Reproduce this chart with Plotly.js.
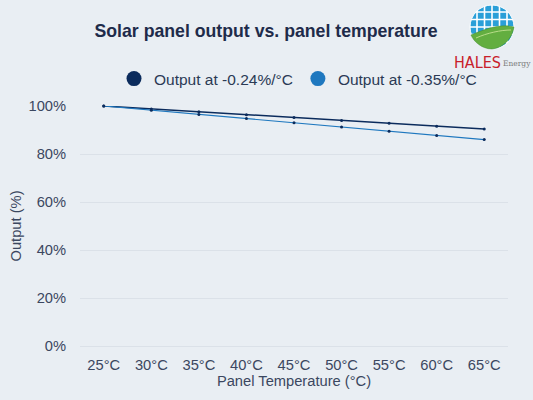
<!DOCTYPE html>
<html><head><meta charset="utf-8">
<script src="https://cdn.plot.ly/plotly-3.0.1.min.js"></script>
<style>html,body{margin:0;padding:0;background:#e9eef3;}#chart{width:533px;height:400px;}</style>
</head><body><div id="chart"></div>
<script>
const temperatures = ["25°C","30°C","35°C","40°C","45°C","50°C","55°C","60°C","65°C"];
const output024 = [100, 98.8, 97.6, 96.4, 95.2, 94.0, 92.8, 91.6, 90.4];
const output035 = [100, 98.25, 96.5, 94.75, 93.0, 91.25, 89.5, 87.75, 86.0];
const seriesNames = ["Output at -0.24%/°C", "Output at -0.35%/°C"];
const yTicks = [0, 20, 40, 60, 80, 100];

const c1 = "#0b2b5c", c2 = "#1f78bf";
const font = "Liberation Sans, Arial, sans-serif";
const txt = "#3b4760";

const traces = [
  {x: temperatures, y: output024, mode: "lines+markers", line: {color: c1, width: 1.5}, marker: {color: c1, size: 3}, showlegend: false, cliponaxis: false, hoverinfo: "skip"},
  {x: temperatures, y: output035, mode: "lines+markers", line: {color: c2, width: 1.2}, marker: {color: c1, size: 3}, showlegend: false, cliponaxis: false, hoverinfo: "skip"},
  {x: [null], y: [null], mode: "markers", name: seriesNames[0], marker: {color: c1, size: 15}, showlegend: true},
  {x: [null], y: [null], mode: "markers", name: seriesNames[1], marker: {color: c2, size: 15}, showlegend: true}
];

// decorative logo, drawn with shapes in paper coordinates (converted from page pixels)
const L = 80, T = 106, W = 428, H = 240;
const PX = p => (p - L) / W, PY = p => (T + H - p) / H;
const cx = 492, cy = 27, r = 22;
function pt(dx, dy){ return PX(cx + dx).toFixed(5) + "," + PY(cy + dy).toFixed(5); }
function gridPath(){
  let p = "";
  [-15, -7.5, 0, 7.5, 15].forEach(d => {
    const h = Math.sqrt(r*r - d*d);
    p += "M" + pt(d, -h) + "L" + pt(d, h) + "M" + pt(-h, d) + "L" + pt(h, d);
  });
  return p;
}
const leafPath = "M" + pt(-21, 8) + "C" + pt(-9, 3) + " " + pt(8, -4) + " " + pt(22, 0) +
  "C" + pt(20, 12) + " " + pt(11, 21) + " " + pt(0, 22) + "C" + pt(-10, 22) + " " + pt(-18, 15) + " " + pt(-21, 8) + "Z";
const veinPath = "M" + pt(-16, 11) + "C" + pt(-5, 6) + " " + pt(9, 3) + " " + pt(19, 3);
const shapes = [
  {type: "circle", xref: "paper", yref: "paper", x0: PX(cx - r), x1: PX(cx + r), y0: PY(cy + r), y1: PY(cy - r), fillcolor: "#2a9fd8", line: {color: "#ffffff", width: 1}, layer: "above"},
  {type: "path", xref: "paper", yref: "paper", path: gridPath(), line: {color: "#ffffff", width: 1.6}, layer: "above"},
  {type: "path", xref: "paper", yref: "paper", path: leafPath, fillcolor: "#63ae40", line: {color: "#3f8a2c", width: 0.5}, layer: "above"},
  {type: "path", xref: "paper", yref: "paper", path: veinPath, line: {color: "#b9dd8a", width: 1}, layer: "above"}
];

const layout = {
  width: 533, height: 400,
  paper_bgcolor: "#e9eef3", plot_bgcolor: "#e9eef3",
  margin: {l: L, r: 533 - L - W, t: T, b: 400 - T - H, pad: 0},
  font: {family: font, color: txt, size: 14.7},
  title: {text: "<b>Solar panel output vs. panel temperature</b>", x: 266/533, xref: "container", xanchor: "center", y: 1 - 31/400, yanchor: "middle", font: {family: font, size: 17.7, color: "#1e2b4a"}},
  showlegend: true,
  legend: {orientation: "h", x: PX(298), xanchor: "center", y: PY(79), yanchor: "middle", font: {size: 15.5, color: "#2b3a55"}, itemsizing: "trace", bgcolor: "rgba(0,0,0,0)", traceorder: "normal"},
  xaxis: {type: "category", range: [-0.5, 8.5], showgrid: false, zeroline: false, showline: false, ticks: "outside", ticklen: 5, tickcolor: "rgba(0,0,0,0)", tickfont: {size: 14.7, color: txt}, title: {text: "Panel Temperature (°C)", font: {size: 14.7, color: txt}, standoff: 3}, fixedrange: true},
  yaxis: {range: [0, 100], tickvals: yTicks, ticktext: yTicks.map(v => v + "%"), showgrid: true, gridcolor: "#dbe1e8", gridwidth: 1, zeroline: true, zerolinecolor: "#dbe1e8", showline: false, ticks: "outside", ticklen: 10, tickcolor: "rgba(0,0,0,0)", tickfont: {size: 14.7, color: txt}, title: {text: "Output (%)", font: {size: 14.7, color: txt}, standoff: 3}, fixedrange: true},
  shapes: shapes,
  annotations: [
    {xref: "paper", yref: "paper", x: PX(477.5), y: PY(62), text: "HALES", showarrow: false, font: {family: "DejaVu Sans Condensed, Liberation Sans Narrow, sans-serif", size: 16, color: "#c8202a"}, xanchor: "center", yanchor: "middle"},
    {xref: "paper", yref: "paper", x: PX(501), y: PY(64), text: "Energy", showarrow: false, font: {family: "DejaVu Serif, Liberation Serif, serif", size: 7.5, color: "#7a7a7a"}, xanchor: "left", yanchor: "middle"}
  ]
};

Plotly.newPlot("chart", traces, layout, {displayModeBar: false, staticPlot: true});
</script>
</body></html>
